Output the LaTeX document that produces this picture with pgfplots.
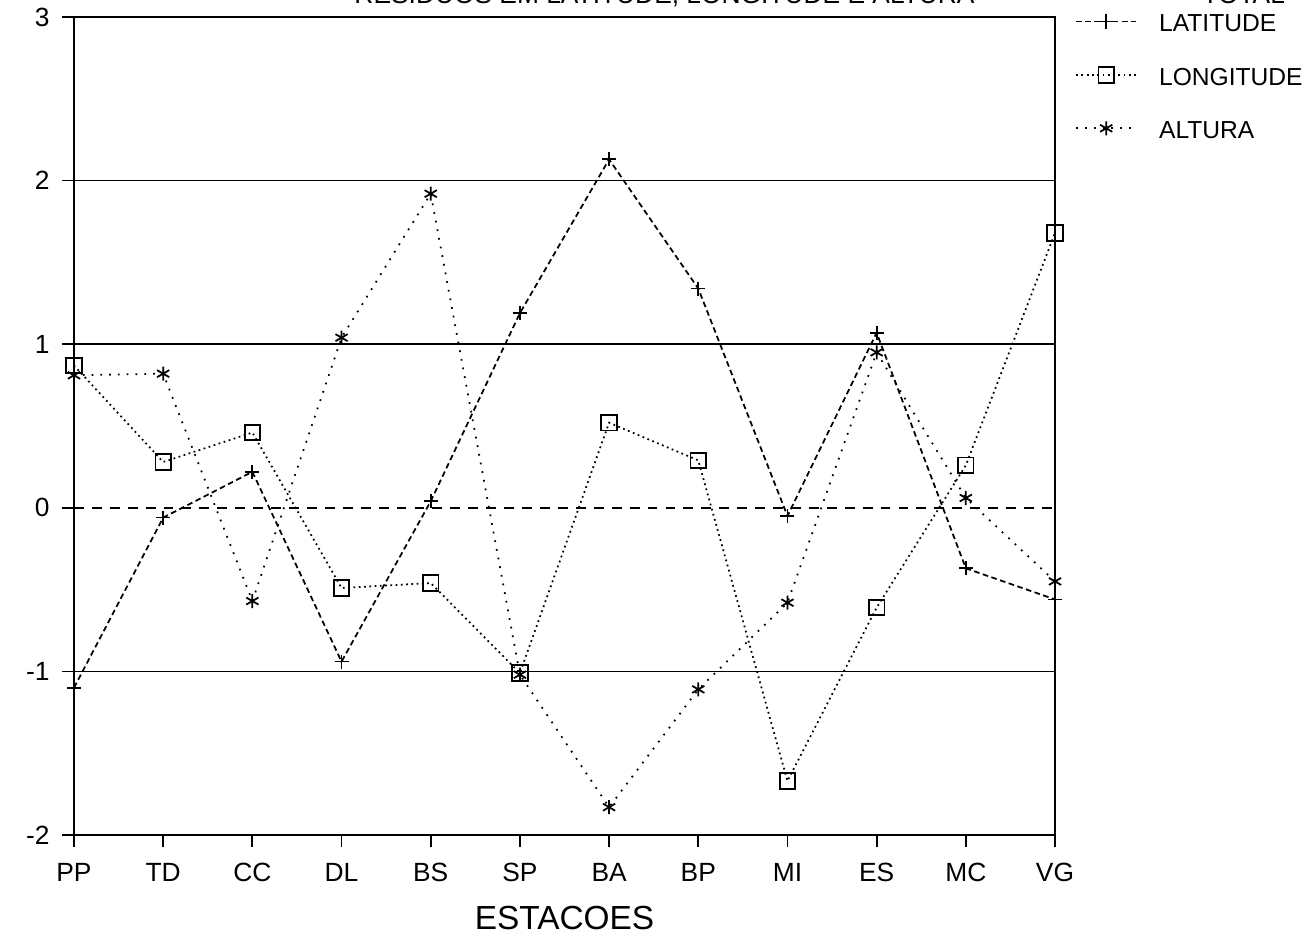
\documentclass[border=0pt]{standalone}
\usepackage{fontspec}
\setmainfont{Liberation Sans}
\usepackage{pgfplots}
\pgfplotsset{compat=1.18}
\begin{document}
\begin{tikzpicture}
\begin{axis}[name=ax, scale only axis, width=98.1mm, height=81.8mm,
  xmin=0, xmax=11, ymin=-2, ymax=3,
  xtick={0,...,11}, xticklabels={PP,TD,CC,DL,BS,SP,BA,BP,MI,ES,MC,VG},
  ytick={-2,-1,1,2,3},
  extra y ticks={0},
  extra y tick style={ymajorgrids=true, major grid style={black, line width=0.5pt, dash pattern=on 2.8pt off 2.3pt}},
  ymajorgrids, major grid style={black, line width=0.5pt},
  tick align=outside, xtick pos=bottom, ytick pos=left,
  major tick length=1.2mm,
  tick style={black, line width=0.5pt},
  axis line style={black, line width=0.6pt},
  ticklabel style={font=\fontsize{7.5}{9}\selectfont},
  xticklabel style={yshift=-0.4mm},
  /pgf/number format/assume math mode=true,
  xlabel={ESTACOES},
  xlabel style={font=\fontsize{9.5}{11}\selectfont},
  legend style={draw=none, fill=none, at={(1.02,1.012)}, anchor=north west,
    font=\fontsize{7}{8}\selectfont, row sep=1.7mm, inner sep=0pt,
    cells={anchor=west},
    /tikz/every odd column/.append style={column sep=1.5mm},
    /tikz/every even column/.append style={yshift=-0.45mm}},
  legend cell align=left,
]
\addplot[black, line width=0.5pt, dash pattern=on 1.6pt off 1pt, mark=+, mark size=2pt, mark options={solid}] coordinates {
(0,-1.10) (1,-0.06) (2,0.22) (3,-0.94) (4,0.04) (5,1.19) (6,2.13) (7,1.34) (8,-0.05) (9,1.07) (10,-0.37) (11,-0.56)};
\addlegendentry{LATITUDE}
\addplot[black, line width=0.5pt, densely dotted, mark=square, mark size=2.2pt, mark options={solid}] coordinates {
(0,0.87) (1,0.28) (2,0.46) (3,-0.49) (4,-0.46) (5,-1.01) (6,0.52) (7,0.29) (8,-1.67) (9,-0.61) (10,0.26) (11,1.68)};
\addlegendentry{LONGITUDE}
\addplot[black, line width=0.5pt, dotted, mark=asterisk, mark size=2pt, mark options={solid}] coordinates {
(0,0.81) (1,0.82) (2,-0.57) (3,1.04) (4,1.92) (5,-1.02) (6,-1.83) (7,-1.11) (8,-0.58) (9,0.95) (10,0.06) (11,-0.45)};
\addlegendentry{ALTURA}
\end{axis}
\node[anchor=base, font=\fontsize{7.5}{9}\selectfont] at ([xshift=10mm,yshift=1.3mm]ax.north) {RESIDUOS EM LATITUDE, LONGITUDE E ALTURA};
\node[anchor=base west, font=\fontsize{7.5}{9}\selectfont] at ([xshift=111.6mm,yshift=1.3mm]ax.north west) {TOTAL};
\pgfresetboundingbox
\path[use as bounding box] ([shift={(-7.4mm,-10mm)}]ax.south west) rectangle ([shift={(25.9mm,1.7mm)}]ax.north east);
\end{tikzpicture}
\end{document}
